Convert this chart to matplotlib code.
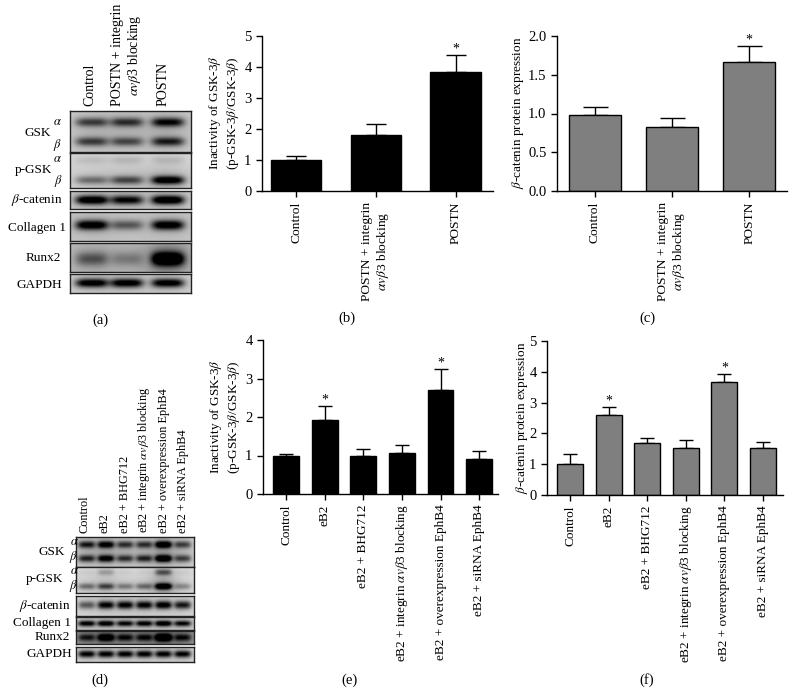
import numpy as np
import matplotlib.pyplot as plt

plt.rcParams['font.family'] = ['Liberation Serif', 'DejaVu Serif']
plt.rcParams['mathtext.fontset'] = 'stix'
plt.rcParams['axes.linewidth'] = 1.0

# ---- data: bar charts ----
labels_top = ['Control', 'POSTN + integrin\n$\\alpha v\\beta$3 blocking', 'POSTN']
gsk_top = [1.0, 1.8, 3.83]
gsk_top_err = [0.12, 0.35, 0.55]
gsk_top_star = [False, False, True]
cat_top = [0.98, 0.83, 1.66]
cat_top_err = [0.10, 0.11, 0.21]
cat_top_star = [False, False, True]

labels_bot = ['Control', 'eB2', 'eB2 + BHG712', 'eB2 + integrin $\\alpha v\\beta$3 blocking',
              'eB2 + overexpression EphB4', 'eB2 + siRNA EphB4']
gsk_bot = [1.0, 1.93, 1.0, 1.07, 2.69, 0.9]
gsk_bot_err = [0.03, 0.35, 0.18, 0.21, 0.55, 0.21]
gsk_bot_star = [False, True, False, False, True, False]
cat_bot = [1.01, 2.59, 1.68, 1.54, 3.68, 1.52]
cat_bot_err = [0.31, 0.26, 0.18, 0.25, 0.24, 0.21]
cat_bot_star = [False, True, False, False, True, False]

# ---- data: western blot band intensities (0 = none, 1 = saturated) ----
blot_a_lanes = ['Control', 'POSTN + integrin\n$\\alpha v\\beta$3 blocking', 'POSTN']
blot_a = {
    'GSK': [[0.50, 0.55, 0.72], [0.50, 0.45, 0.62]],
    'p-GSK': [[0.08, 0.10, 0.10], [0.35, 0.48, 0.85]],
    'cat': [[0.90, 0.75, 0.95]],
    'col': [[0.85, 0.40, 0.85]],
    'runx': [[0.35, 0.20, 1.00]],
    'gapdh': [[0.85, 0.85, 0.85]],
}
blot_d_lanes = ['Control', 'eB2', 'eB2 + BHG712', 'eB2 + integrin $\\alpha v\\beta$3 blocking',
                'eB2 + overexpression EphB4', 'eB2 + siRNA EphB4']
blot_d = {
    'GSK': [[0.65, 0.80, 0.55, 0.55, 0.95, 0.50], [0.60, 0.80, 0.55, 0.60, 1.00, 0.50]],
    'p-GSK': [[0.04, 0.20, 0.04, 0.04, 0.45, 0.04], [0.35, 0.50, 0.30, 0.35, 1.00, 0.25]],
    'cat': [[0.45, 0.80, 0.80, 0.80, 0.85, 0.70]],
    'col': [[0.80, 0.85, 0.75, 0.80, 0.90, 0.75]],
    'runx': [[0.45, 0.75, 0.50, 0.50, 0.95, 0.50]],
    'gapdh': [[0.80, 0.80, 0.80, 0.80, 0.80, 0.80]],
}

W, H = 796, 694
fig = plt.figure(figsize=(W / 100, H / 100), dpi=100)


def rect(x0, y0, x1, y1):
    # pixel box -> figure fraction
    return [x0 / W, 1 - y1 / H, (x1 - x0) / W, (y1 - y0) / H]


def ftext(x, y, s, **kw):
    fig.text(x / W, 1 - y / H, s, **kw)


def bar_panel(box, labels, vals, errs, stars, ymax, yticks, color, xlim, width, capsize, xfs):
    ax = fig.add_axes(rect(*box))
    x = np.arange(len(vals))
    ax.bar(x, vals, width, color=color, edgecolor='k', linewidth=1, zorder=2)
    ax.errorbar(x, vals, yerr=[np.zeros(len(errs)), errs], fmt='none', ecolor='k',
                elinewidth=1, capsize=capsize, capthick=1, zorder=1)
    for xi, v, e, s in zip(x, vals, errs, stars):
        if s:
            ax.text(xi, v + e, '*', ha='center', va='bottom', fontsize=10)
    ax.set_xlim(*xlim)
    ax.set_ylim(0, ymax)
    ax.set_yticks(yticks)
    ax.set_xticks(x)
    ax.set_xticklabels(labels, rotation=90, fontsize=xfs, multialignment='center')
    ax.tick_params(axis='y', labelsize=10.5, length=4, width=1)
    ax.tick_params(axis='x', length=4, width=1)
    ax.spines['top'].set_visible(False)
    ax.spines['right'].set_visible(False)
    return ax


def blot_row(box, bands, bg, lane_x, band_w, band_y, band_h, haze=0.0):
    ax = fig.add_axes(rect(*box))
    nx, ny = 240, 60
    X, Y = np.meshgrid(np.linspace(0, 1, nx), np.linspace(0, 1, ny))
    img = np.full((ny, nx), bg)
    for row, yc in zip(bands, band_y):
        for inten, xc in zip(row, lane_x):
            img -= inten * np.exp(-((X - xc) / band_w) ** 4) * np.exp(-((Y - yc) / band_h) ** 2)
            img -= haze * inten * np.exp(-((X - xc) / (band_w * 1.5)) ** 2) * np.exp(-((Y - yc) / (band_h * 3)) ** 2)
    ax.imshow(np.clip(img, 0, 1), cmap='gray', vmin=0, vmax=1, aspect='auto',
              extent=[0, 1, 1, 0], interpolation='bilinear')
    ax.set_xticks([])
    ax.set_yticks([])
    for sp in ax.spines.values():
        sp.set_linewidth(1.0)
        sp.set_color('#222222')
    return ax


fs_blot = 9.5
fs_greek = 9

# ---------- panel (a) ----------
lx_a = [0.18, 0.47, 0.81]
bw_a = 0.135
blot_row((70, 111, 191, 152), blot_a['GSK'], 0.8, lx_a, bw_a, [0.27, 0.75], 0.11, 0.15)
blot_row((70, 153, 191, 188), blot_a['p-GSK'], 0.84, lx_a, bw_a, [0.2, 0.78], 0.12, 0.2)
blot_row((70, 191, 191, 209), blot_a['cat'], 0.8, lx_a, bw_a, [0.5], 0.25, 0.1)
blot_row((70, 212, 191, 241), blot_a['col'], 0.78, lx_a, bw_a, [0.45], 0.17, 0.1)
blot_row((70, 243, 191, 272), blot_a['runx'], 0.74, lx_a, bw_a, [0.55], 0.24, 0.25)
blot_row((70, 274, 191, 293), blot_a['gapdh'], 0.82, lx_a, bw_a, [0.5], 0.22, 0.1)

ftext(38, 133, 'GSK', ha='center', va='center', fontsize=fs_blot)
ftext(57, 122, '$\\alpha$', ha='center', va='center', fontsize=fs_greek)
ftext(57, 145, '$\\beta$', ha='center', va='center', fontsize=fs_greek)
ftext(34, 170, 'p-GSK', ha='center', va='center', fontsize=fs_blot)
ftext(57, 159, '$\\alpha$', ha='center', va='center', fontsize=fs_greek)
ftext(58, 181, '$\\beta$', ha='center', va='center', fontsize=fs_greek)
ftext(37, 200, '$\\beta$-catenin', ha='center', va='center', fontsize=fs_blot)
ftext(37, 228, 'Collagen 1', ha='center', va='center', fontsize=fs_blot)
ftext(43, 258, 'Runx2', ha='center', va='center', fontsize=fs_blot)
ftext(39, 285, 'GAPDH', ha='center', va='center', fontsize=fs_blot)
for xc, lab in zip([90, 127, 163], blot_a_lanes):
    ftext(xc, 106, lab, rotation=90, ha='center', va='bottom', fontsize=10,
          multialignment='center', linespacing=1.1)
ftext(100, 320, '(a)', ha='center', va='center', fontsize=10.5)

# ---------- panel (d) ----------
lx_d = [0.09 + i * 0.163 for i in range(6)]
bw_d = 0.072
blot_row((76, 537, 194, 567), blot_d['GSK'], 0.82, lx_d, bw_d, [0.25, 0.72], 0.12, 0.15)
blot_row((76, 567, 194, 593), blot_d['p-GSK'], 0.86, lx_d, bw_d, [0.2, 0.75], 0.12, 0.25)
blot_row((76, 596, 194, 616), blot_d['cat'], 0.84, lx_d, bw_d, [0.45], 0.2, 0.1)
blot_row((76, 617, 194, 630), blot_d['col'], 0.8, lx_d, bw_d, [0.5], 0.22, 0.1)
blot_row((76, 631, 194, 644), blot_d['runx'], 0.6, lx_d, bw_d, [0.5], 0.28, 0.2)
blot_row((76, 647, 194, 662), blot_d['gapdh'], 0.84, lx_d, bw_d, [0.5], 0.22, 0.1)

ftext(52, 552, 'GSK', ha='center', va='center', fontsize=fs_blot)
ftext(74, 542, '$\\alpha$', ha='center', va='center', fontsize=fs_greek)
ftext(73, 557, '$\\beta$', ha='center', va='center', fontsize=fs_greek)
ftext(45, 579, 'p-GSK', ha='center', va='center', fontsize=fs_blot)
ftext(74, 571, '$\\alpha$', ha='center', va='center', fontsize=fs_greek)
ftext(73, 586, '$\\beta$', ha='center', va='center', fontsize=fs_greek)
ftext(45, 606, '$\\beta$-catenin', ha='center', va='center', fontsize=fs_blot)
ftext(42, 623, 'Collagen 1', ha='center', va='center', fontsize=fs_blot)
ftext(52, 637, 'Runx2', ha='center', va='center', fontsize=fs_blot)
ftext(49, 654, 'GAPDH', ha='center', va='center', fontsize=fs_blot)
for xc, lab in zip([85, 105, 125, 144, 164, 183], blot_d_lanes):
    ftext(xc, 533, lab, rotation=90, ha='center', va='bottom', fontsize=8.8)
ftext(100, 680, '(d)', ha='center', va='center', fontsize=10.5)

# ---------- bar panels ----------
ylab_gsk = 'Inactivity of GSK-3$\\beta$\n(p-GSK-3$\\beta$/GSK-3$\\beta$)'
ylab_cat = '$\\beta$-catenin protein expression'

bar_panel((262, 36, 493, 191), labels_top, gsk_top, gsk_top_err, gsk_top_star,
          5, range(0, 6), 'black', (-0.43, 2.47), 0.63, 7, 9.7)
ftext(224, 113, ylab_gsk, rotation=90, ha='center', va='center', fontsize=9.5,
      multialignment='center')
ftext(347, 318, '(b)', ha='center', va='center', fontsize=10.5)

ax_c = bar_panel((557, 36, 787, 191), labels_top, cat_top, cat_top_err, cat_top_star,
                 2.0, [0, 0.5, 1.0, 1.5, 2.0], '#7f7f7f', (-0.49, 2.49), 0.67, 9, 9.7)
ax_c.set_yticklabels(['0.0', '0.5', '1.0', '1.5', '2.0'])
ftext(518, 113, ylab_cat, rotation=90, ha='center', va='center', fontsize=9.5)
ftext(647, 318, '(c)', ha='center', va='center', fontsize=10.5)

bar_panel((263, 340, 498, 494), labels_bot, gsk_bot, gsk_bot_err, gsk_bot_star,
          4, range(0, 5), 'black', (-0.6, 5.49), 0.67, 4.7, 9.5)
ftext(225, 417, ylab_gsk, rotation=90, ha='center', va='center', fontsize=9.5,
      multialignment='center')
ftext(350, 680, '(e)', ha='center', va='center', fontsize=10.5)

bar_panel((547, 341, 783, 495), labels_bot, cat_bot, cat_bot_err, cat_bot_star,
          5, range(0, 6), '#7f7f7f', (-0.6, 5.52), 0.67, 4.7, 9.5)
ftext(522, 418, ylab_cat, rotation=90, ha='center', va='center', fontsize=9.5)
ftext(647, 680, '(f)', ha='center', va='center', fontsize=10.5)

fig.savefig('out.png', dpi=100)
